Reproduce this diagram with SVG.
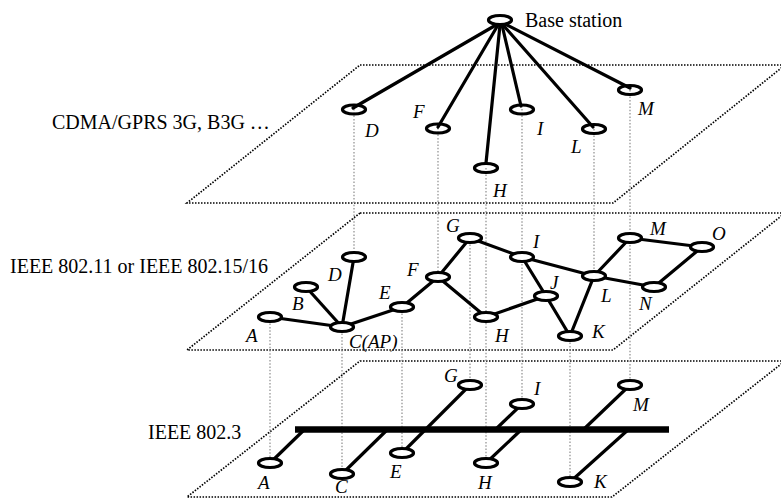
<svg xmlns="http://www.w3.org/2000/svg" width="781" height="498" viewBox="0 0 781 498">
<defs>
<style>
.plane{fill:none;stroke:#000;stroke-width:1.7;stroke-dasharray:1.5 1.5}
.drop{fill:none;stroke:#8c8c8c;stroke-width:1.2;stroke-dasharray:1.5 1.8}
.edge{fill:none;stroke:#000;stroke-width:3.2;stroke-linecap:round}
.bus{stroke:#000;stroke-width:6.5}
.node{fill:#fff;stroke:#000;stroke-width:3.2}
.hollow{fill:none;stroke:#000;stroke-width:3.2}
.lbl{font-family:"Liberation Serif","Times New Roman",serif;font-size:20px;fill:#000}
.nl{font-family:"Liberation Serif","Times New Roman",serif;font-size:19px;font-style:italic;fill:#000}
</style>
</defs>
<rect width="781" height="498" fill="#fff"/>
<g id="planes">
<path class="plane" d="M360,65 L785,65 L613,203 L187,203 Z"/>
<path class="plane" d="M360,213 L785,213 L613,350 L187,350 Z"/>
<path class="plane" d="M360,361 L785,361 L612,497 L187,497 Z"/>
</g>
<g id="drops">
<line class="drop" x1="270" y1="317" x2="270" y2="463"/>
<line class="drop" x1="342" y1="327" x2="342" y2="474"/>
<line class="drop" x1="354" y1="109" x2="354" y2="257"/>
<line class="drop" x1="402" y1="307" x2="402" y2="453"/>
<line class="drop" x1="438" y1="128" x2="438" y2="277"/>
<line class="drop" x1="470" y1="238" x2="470" y2="385"/>
<line class="drop" x1="486" y1="168" x2="486" y2="463"/>
<line class="drop" x1="522" y1="109" x2="522" y2="404"/>
<line class="drop" x1="570" y1="336" x2="570" y2="482"/>
<line class="drop" x1="594" y1="129" x2="594" y2="276"/>
<line class="drop" x1="630" y1="90" x2="630" y2="385"/>
</g>
<g id="connectors">
<line class="edge" x1="496" y1="25" x2="353" y2="108"/>
<line class="edge" x1="498" y1="25" x2="438" y2="127"/>
<line class="edge" x1="500" y1="25" x2="486" y2="163"/>
<line class="edge" x1="502" y1="25" x2="521" y2="106"/>
<line class="edge" x1="503" y1="25" x2="593" y2="127"/>
<line class="edge" x1="505" y1="24" x2="630" y2="88"/>
<line class="edge" x1="270" y1="317" x2="342" y2="327"/>
<line class="edge" x1="306" y1="287" x2="342" y2="327"/>
<line class="edge" x1="354" y1="257" x2="342" y2="327"/>
<line class="edge" x1="342" y1="327" x2="402" y2="307"/>
<line class="edge" x1="402" y1="307" x2="438" y2="277"/>
<line class="edge" x1="438" y1="277" x2="470" y2="238"/>
<line class="edge" x1="438" y1="277" x2="486" y2="317"/>
<line class="edge" x1="470" y1="238" x2="522" y2="257"/>
<line class="edge" x1="486" y1="317" x2="546" y2="296"/>
<line class="edge" x1="522" y1="257" x2="546" y2="296"/>
<line class="edge" x1="522" y1="257" x2="594" y2="276"/>
<line class="edge" x1="546" y1="296" x2="570" y2="336"/>
<line class="edge" x1="570" y1="336" x2="594" y2="276"/>
<line class="edge" x1="594" y1="276" x2="630" y2="238"/>
<line class="edge" x1="594" y1="276" x2="654" y2="287"/>
<line class="edge" x1="630" y1="238" x2="702" y2="247"/>
<line class="edge" x1="654" y1="287" x2="702" y2="247"/>
<line class="bus" x1="295" y1="429.5" x2="669" y2="429.5"/>
<line class="edge" x1="470" y1="385" x2="402" y2="453"/>
<line class="edge" x1="522" y1="404" x2="496" y2="429"/>
<line class="edge" x1="486" y1="463" x2="522" y2="429"/>
<line class="edge" x1="270" y1="463" x2="305" y2="429"/>
<line class="edge" x1="342" y1="474" x2="388" y2="429"/>
<line class="edge" x1="630" y1="385" x2="584" y2="429"/>
<line class="edge" x1="570" y1="482" x2="629" y2="429"/>
</g>
<g id="base-station"><ellipse class="node" cx="500" cy="20" rx="11.5" ry="4.5"/><text class="lbl" x="525" y="27">Base station</text></g>
<g id="l1-D"><ellipse class="hollow" cx="354" cy="109.5" rx="11.5" ry="4.5"/><text class="nl" x="365" y="137">D</text></g>
<g id="l1-F"><ellipse class="hollow" cx="438" cy="128.5" rx="11.5" ry="4.5"/><text class="nl" x="413" y="118">F</text></g>
<g id="l1-H"><ellipse class="hollow" cx="486" cy="168" rx="11.5" ry="4.5"/><text class="nl" x="493" y="197">H</text></g>
<g id="l1-I"><ellipse class="hollow" cx="522" cy="109.5" rx="11.5" ry="4.5"/><text class="nl" x="537" y="135">I</text></g>
<g id="l1-L"><ellipse class="hollow" cx="594" cy="129" rx="11.5" ry="4.5"/><text class="nl" x="571" y="153">L</text></g>
<g id="l1-M"><ellipse class="hollow" cx="630" cy="90" rx="11.5" ry="4.5"/><text class="nl" x="638" y="115">M</text></g>
<g id="l2-A"><ellipse class="node" cx="270" cy="317" rx="11.5" ry="4.5"/><text class="nl" x="246" y="342">A</text></g>
<g id="l2-B"><ellipse class="node" cx="306" cy="287" rx="11.5" ry="4.5"/><text class="nl" x="292" y="310">B</text></g>
<g id="l2-C"><ellipse class="node" cx="342" cy="327" rx="11.5" ry="4.5"/><text class="nl" x="349" y="348">C(AP)</text></g>
<g id="l2-D"><ellipse class="node" cx="354" cy="257" rx="11.5" ry="4.5"/><text class="nl" x="328" y="281">D</text></g>
<g id="l2-E"><ellipse class="node" cx="402" cy="307" rx="11.5" ry="4.5"/><text class="nl" x="379" y="299">E</text></g>
<g id="l2-F"><ellipse class="node" cx="438" cy="277" rx="11.5" ry="4.5"/><text class="nl" x="407" y="276">F</text></g>
<g id="l2-G"><ellipse class="node" cx="470" cy="238" rx="11.5" ry="4.5"/><text class="nl" x="446" y="232">G</text></g>
<g id="l2-H"><ellipse class="node" cx="486" cy="317" rx="11.5" ry="4.5"/><text class="nl" x="495" y="342">H</text></g>
<g id="l2-I"><ellipse class="node" cx="522" cy="257" rx="11.5" ry="4.5"/><text class="nl" x="533" y="248">I</text></g>
<g id="l2-J"><ellipse class="node" cx="546" cy="296" rx="11.5" ry="4.5"/><text class="nl" x="550" y="289">J</text></g>
<g id="l2-K"><ellipse class="node" cx="570" cy="336" rx="11.5" ry="4.5"/><text class="nl" x="592" y="338">K</text></g>
<g id="l2-L"><ellipse class="node" cx="594" cy="276" rx="11.5" ry="4.5"/><text class="nl" x="601" y="302">L</text></g>
<g id="l2-M"><ellipse class="node" cx="630" cy="238" rx="11.5" ry="4.5"/><text class="nl" x="650" y="235">M</text></g>
<g id="l2-N"><ellipse class="node" cx="654" cy="287" rx="11.5" ry="4.5"/><text class="nl" x="639" y="310">N</text></g>
<g id="l2-O"><ellipse class="node" cx="702" cy="247" rx="11.5" ry="4.5"/><text class="nl" x="712" y="240">O</text></g>
<g id="l3-A"><ellipse class="node" cx="270" cy="463" rx="11.5" ry="4.5"/><text class="nl" x="258" y="489">A</text></g>
<g id="l3-C"><ellipse class="node" cx="342" cy="474" rx="11.5" ry="4.5"/><text class="nl" x="335" y="493">C</text></g>
<g id="l3-E"><ellipse class="node" cx="402" cy="453" rx="11.5" ry="4.5"/><text class="nl" x="390" y="478">E</text></g>
<g id="l3-G"><ellipse class="node" cx="470" cy="385" rx="11.5" ry="4.5"/><text class="nl" x="444" y="382">G</text></g>
<g id="l3-H"><ellipse class="node" cx="486" cy="463" rx="11.5" ry="4.5"/><text class="nl" x="478" y="489">H</text></g>
<g id="l3-I"><ellipse class="node" cx="522" cy="404" rx="11.5" ry="4.5"/><text class="nl" x="534" y="395">I</text></g>
<g id="l3-K"><ellipse class="node" cx="570" cy="482" rx="11.5" ry="4.5"/><text class="nl" x="594" y="488">K</text></g>
<g id="l3-M"><ellipse class="node" cx="630" cy="385" rx="11.5" ry="4.5"/><text class="nl" x="633" y="411">M</text></g>
<g id="layer-labels">
<text class="lbl" x="52" y="129">CDMA/GPRS 3G, B3G …</text>
<text class="lbl" x="10" y="273">IEEE 802.11 or IEEE 802.15/16</text>
<text class="lbl" x="148" y="439">IEEE 802.3</text>
</g>
</svg>
